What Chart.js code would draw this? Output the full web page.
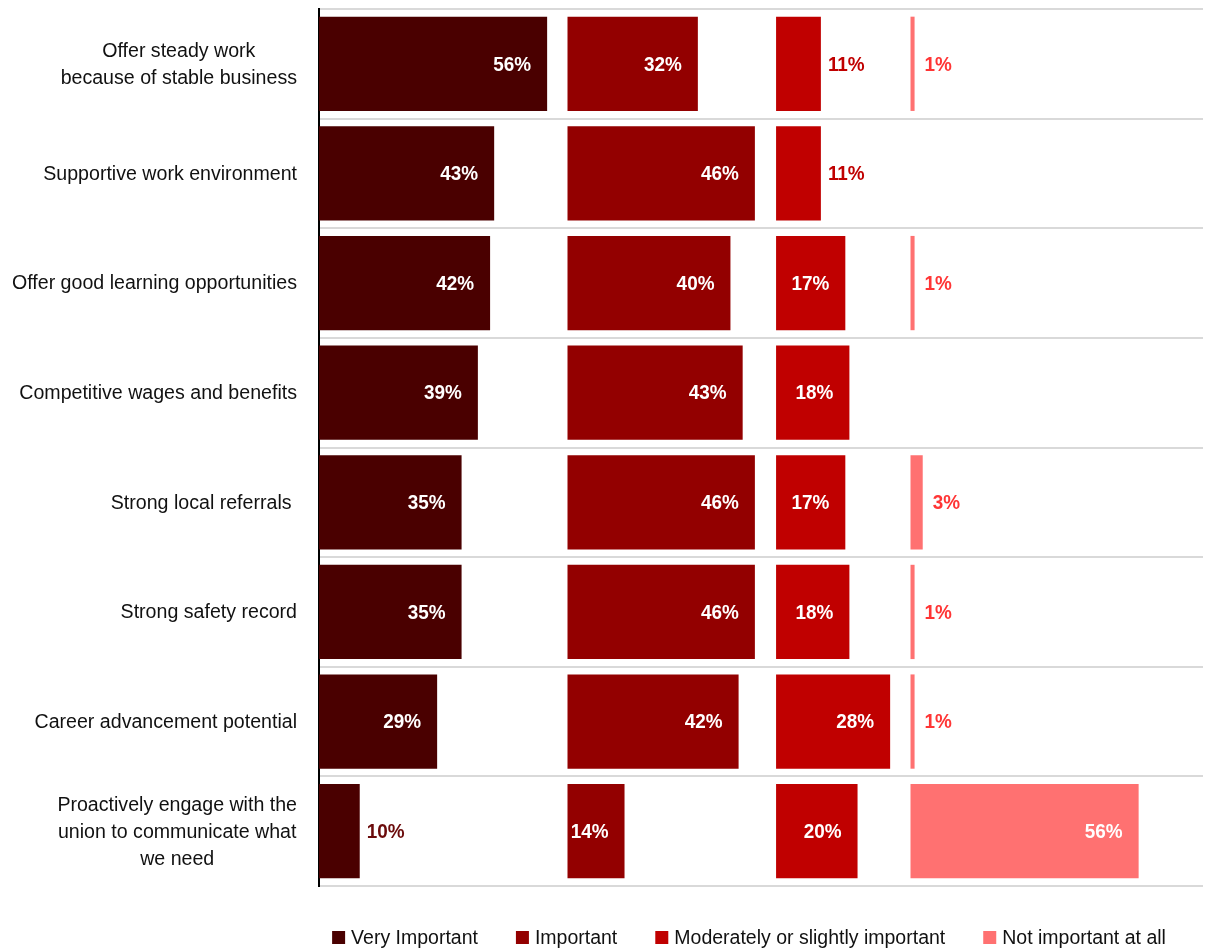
<!DOCTYPE html>
<html>
<head>
<meta charset="utf-8">
<title>Importance of employer attributes</title>
<script src="https://cdn.jsdelivr.net/npm/chart.js@4/dist/chart.umd.min.js"></script>
<style>
  html, body { margin: 0; padding: 0; background: #fff; }
  #wrap { width: 1205px; height: 949px; position: relative; }
</style>
</head>
<body>
<div id="wrap"><canvas id="chart"></canvas></div>
<script>
// Categories (multi-line labels as arrays)
const categories = [
  ['Offer steady work', 'because of stable business'],
  ['Supportive work environment'],
  ['Offer good learning opportunities'],
  ['Competitive wages and benefits'],
  ['Strong local referrals '],
  ['Strong safety record'],
  ['Career advancement potential'],
  ['Proactively engage with the', 'union to communicate what', 'we need']
];

const seriesNames = ['Very Important', 'Important', 'Moderately or slightly important', 'Not important at all'];

// Percent of respondents per rating
const veryImportant       = [56, 43, 42, 39, 35, 35, 29, 10];
const important           = [32, 46, 40, 43, 46, 46, 42, 14];
const moderatelyImportant = [11, 11, 17, 18, 17, 18, 28, 20];
const notImportant        = [1, null, 1, null, 3, 1, 1, 56];

const seriesValues = [veryImportant, important, moderatelyImportant, notImportant];

// Layout: each rating gets its own panel along the shared value axis
const panelStart = [0, 61, 112.2, 145.2];
const axisMax = 217;

const fills = ['#4a0000', '#930000', '#c00000', '#ff7171'];
const outsideText = ['#6b0b0b', '#930000', '#c00000', '#ff3535'];
const FONT = '"Liberation Sans", Arial, Helvetica, sans-serif';

// Value labels: inside the bar end when there is room, otherwise just past it
const barLabels = {
  id: 'barLabels',
  afterDatasetsDraw(chart) {
    const ctx = chart.ctx;
    chart.data.datasets.forEach((ds, k) => {
      const meta = chart.getDatasetMeta(k);
      meta.data.forEach((bar, i) => {
        const v = seriesValues[k][i];
        if (v == null) return;
        const text = v + '%';
        const inside = v > 12;
        const sx = 0.9;
        ctx.save();
        ctx.font = 'bold 21px ' + FONT;
        ctx.textBaseline = 'middle';
        ctx.textAlign = 'left';
        ctx.fillStyle = inside ? '#ffffff' : outsideText[k];
        const w = ctx.measureText(text).width * sx;
        const x = inside ? bar.x - 16 - w : bar.x + (v < 5 ? 10 : 7);
        ctx.translate(x, bar.y + 1);
        ctx.scale(sx, 1);
        ctx.fillText(text, 0, 0);
        ctx.restore();
      });
    });
  }
};

// Category labels: block right-aligned to the axis, lines centred in the block
const categoryLabels = {
  id: 'categoryLabels',
  afterDraw(chart) {
    const ctx = chart.ctx;
    const yScale = chart.scales.y;
    const right = chart.chartArea.left - 22;
    const lineHeight = 27;
    ctx.save();
    ctx.font = '19.6px ' + FONT;
    ctx.fillStyle = '#111';
    ctx.textBaseline = 'middle';
    ctx.textAlign = 'center';
    categories.forEach((lines, i) => {
      const cy = yScale.getPixelForValue(i);
      const blockW = Math.max(...lines.map(l => ctx.measureText(l).width));
      const cx = right - blockW / 2;
      lines.forEach((l, j) => {
        ctx.fillText(l, cx, cy + (j - (lines.length - 1) / 2) * lineHeight + 1);
      });
    });
    ctx.restore();
  }
};

// Legend row along the bottom
const legendRow = {
  id: 'legendRow',
  afterDraw(chart) {
    const ctx = chart.ctx;
    const box = 13, gapText = 6, gapItem = 38;
    ctx.save();
    ctx.font = '19.5px ' + FONT;
    ctx.textBaseline = 'middle';
    ctx.textAlign = 'left';
    const widths = chart.data.datasets.map(ds => box + gapText + ctx.measureText(ds.label).width);
    const total = widths.reduce((a, b) => a + b, 0) + gapItem * (widths.length - 1);
    let x = 749 - total / 2;
    const cy = 937.5;
    chart.data.datasets.forEach((ds, k) => {
      ctx.fillStyle = ds.backgroundColor;
      ctx.fillRect(x, cy - box / 2, box, box);
      ctx.fillStyle = '#111';
      ctx.fillText(ds.label, x + box + gapText, cy + 1);
      x += widths[k] + gapItem;
    });
    ctx.restore();
  }
};

new Chart(document.getElementById('chart'), {
  type: 'bar',
  data: {
    labels: categories.map(c => c.join(' ')),
    datasets: seriesValues.map((vals, k) => ({
      label: seriesNames[k],
      data: vals.map(v => v == null ? null : [panelStart[k], panelStart[k] + v]),
      backgroundColor: fills[k],
      borderWidth: 0,
      grouped: false,
      categoryPercentage: 1,
      barPercentage: 0.86
    }))
  },
  options: {
    indexAxis: 'y',
    responsive: true,
    maintainAspectRatio: false,
    animation: false,
    layout: { padding: { top: 9, right: 2, bottom: 63, left: 0 } },
    plugins: {
      legend: { display: false },
      tooltip: { enabled: false }
    },
    scales: {
      x: { type: 'linear', min: 0, max: axisMax, display: false },
      y: {
        type: 'category',
        offset: true,
        z: 1,
        grid: { offset: true, color: '#d9d9d9', lineWidth: 2, drawTicks: false },
        border: { display: true, color: '#000', width: 2 },
        ticks: { display: false },
        afterFit(scale) { scale.width = 319; }
      }
    }
  },
  plugins: [barLabels, categoryLabels, legendRow]
});
</script>
</body>
</html>
